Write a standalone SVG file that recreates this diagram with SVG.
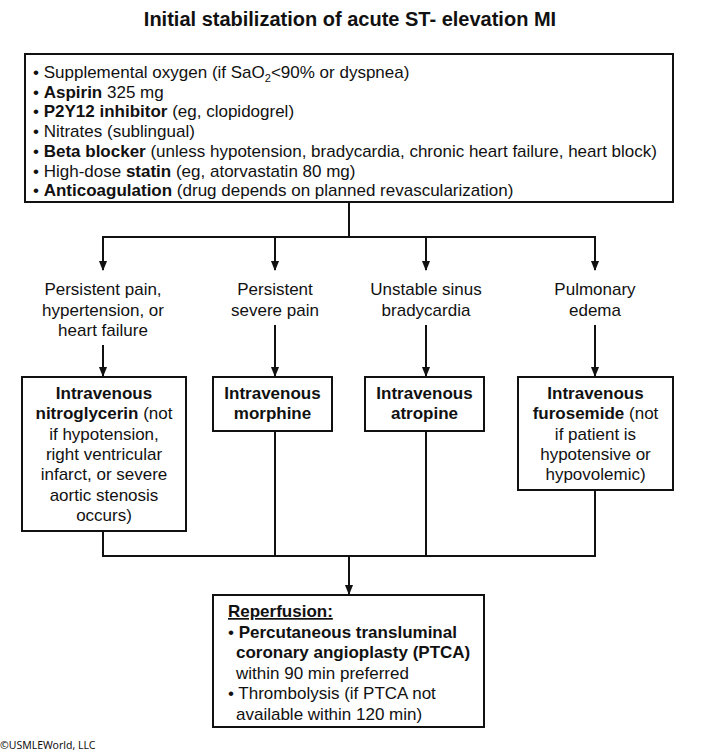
<svg xmlns="http://www.w3.org/2000/svg" width="702" height="754" viewBox="0 0 702 754">
<style>
text{font-family:"Liberation Sans",Arial,sans-serif;font-size:17px;fill:#111}
.t{font-size:20px;font-weight:bold}
.b{font-weight:bold}
.c{text-anchor:middle}
.box{fill:#fff;stroke:#111;stroke-width:2}
.ln{fill:none;stroke:#111;stroke-width:2}
.cp{font-family:"Noto Sans","Open Sans",sans-serif;font-size:10.5px}
</style>
<defs>
<marker id="ah" markerWidth="10" markerHeight="11" refX="10" refY="5" orient="auto" markerUnits="userSpaceOnUse" viewBox="0 0 11 10">
<path d="M0,0.5 L11,5 L0,9.5 Z" fill="#111"/>
</marker>
</defs>
<text class="t c" x="350" y="26">Initial stabilization of acute ST- elevation MI</text>

<g id="connectors">
<path class="ln" d="M349,202 V237 M103,237 H595"/>
<path class="ln" d="M103,236 V270" marker-end="url(#ah)"/>
<path class="ln" d="M275,237 V270" marker-end="url(#ah)"/>
<path class="ln" d="M426,237 V270" marker-end="url(#ah)"/>
<path class="ln" d="M595,236 V270" marker-end="url(#ah)"/>
<path class="ln" d="M103,345 V376" marker-end="url(#ah)"/>
<path class="ln" d="M275,325 V376" marker-end="url(#ah)"/>
<path class="ln" d="M426,325 V376" marker-end="url(#ah)"/>
<path class="ln" d="M595,325 V376" marker-end="url(#ah)"/>
<path class="ln" d="M103,531 V556 H595 V490 M275,431 V556 M426,431 V556"/>
<path class="ln" d="M349,556 V594" marker-end="url(#ah)"/>
</g>

<g id="initial">
<rect class="box" x="25" y="54" width="648" height="148"/>
<text x="33" y="78">• Supplemental oxygen (if SaO<tspan font-size="11" dy="4">2</tspan><tspan dy="-4">&lt;90% or dyspnea)</tspan></text>
<text x="33" y="97.7">• <tspan class="b">Aspirin</tspan> 325 mg</text>
<text x="33" y="117.4">• <tspan class="b">P2Y12 inhibitor</tspan> (eg, clopidogrel)</text>
<text x="33" y="137.1">• Nitrates (sublingual)</text>
<text x="33" y="156.8">• <tspan class="b">Beta blocker</tspan> (unless hypotension, bradycardia, chronic heart failure, heart block)</text>
<text x="33" y="176.5">• High-dose <tspan class="b">statin</tspan> (eg, atorvastatin 80 mg)</text>
<text x="33" y="196.2">• <tspan class="b">Anticoagulation</tspan> (drug depends on planned revascularization)</text>
</g>

<g id="cond1">
<text class="c" x="103" y="295">Persistent pain,</text>
<text class="c" x="103" y="315.5">hypertension, or</text>
<text class="c" x="103" y="336">heart failure</text>
</g>
<g id="cond2">
<text class="c" x="275" y="295">Persistent</text>
<text class="c" x="275" y="315.5">severe pain</text>
</g>
<g id="cond3">
<text class="c" x="426" y="295">Unstable sinus</text>
<text class="c" x="426" y="315.5">bradycardia</text>
</g>
<g id="cond4">
<text class="c" x="595" y="295">Pulmonary</text>
<text class="c" x="595" y="315.5">edema</text>
</g>

<g id="nitro">
<rect class="box" x="22" y="377" width="164" height="154"/>
<text class="c b" x="104" y="399">Intravenous</text>
<text class="c" x="104" y="419.3"><tspan class="b">nitroglycerin</tspan> (not</text>
<text class="c" x="104" y="439.6">if hypotension,</text>
<text class="c" x="104" y="459.9">right ventricular</text>
<text class="c" x="104" y="480.2">infarct, or severe</text>
<text class="c" x="104" y="500.5">aortic stenosis</text>
<text class="c" x="104" y="520.8">occurs)</text>
</g>
<g id="morphine">
<rect class="box" x="213" y="377" width="119" height="54"/>
<text class="c b" x="272.5" y="399">Intravenous</text>
<text class="c b" x="272.5" y="419.3">morphine</text>
</g>
<g id="atropine">
<rect class="box" x="365" y="377" width="119" height="54"/>
<text class="c b" x="424.5" y="399">Intravenous</text>
<text class="c b" x="424.5" y="419.3">atropine</text>
</g>
<g id="furosemide">
<rect class="box" x="518" y="377" width="155" height="113"/>
<text class="c b" x="595.5" y="399">Intravenous</text>
<text class="c" x="595.5" y="419.3"><tspan class="b">furosemide</tspan> (not</text>
<text class="c" x="595.5" y="439.6">if patient is</text>
<text class="c" x="595.5" y="459.9">hypotensive or</text>
<text class="c" x="595.5" y="480.2">hypovolemic)</text>
</g>

<g id="reperfusion">
<rect class="box" x="213" y="595" width="271" height="132"/>
<text class="b" x="228" y="617" text-decoration="underline">Reperfusion:</text>
<text x="228" y="637.5">• <tspan class="b">Percutaneous transluminal</tspan></text>
<text class="b" x="236" y="658">coronary angioplasty (PTCA)</text>
<text x="236" y="678.5">within 90 min preferred</text>
<text x="228" y="699">• Thrombolysis (if PTCA not</text>
<text x="236" y="719.5">available within 120 min)</text>
</g>

<text class="cp" x="0" y="749">©USMLEWorld, LLC</text>
</svg>
